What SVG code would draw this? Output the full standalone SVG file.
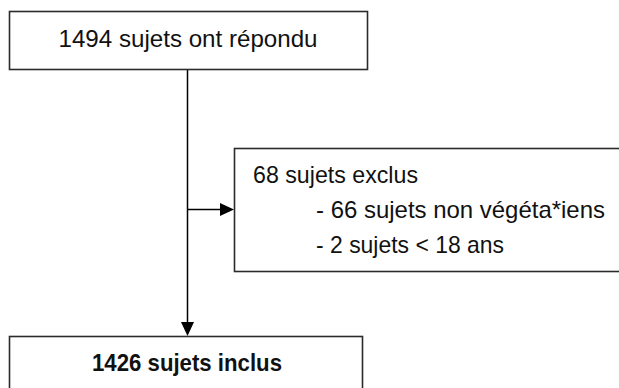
<svg xmlns="http://www.w3.org/2000/svg" width="619" height="388" viewBox="0 0 619 388">
  <defs>
    <style>
      .box { fill: #ffffff; stroke: #2b2b2b; stroke-width: 1.6; }
      .txt { font-family: "Liberation Sans", Arial, sans-serif; font-size: 24px; fill: #111111; }
      .bold { font-weight: bold; }
      .conn { stroke: #000000; stroke-width: 1.5; fill: none; }
    </style>
    <marker id="arrow" markerUnits="userSpaceOnUse" markerWidth="14" markerHeight="13" refX="10" refY="6.5" orient="auto">
      <path d="M0,0 L14,6.5 L0,13 z" fill="#000000"/>
    </marker>
  </defs>
  <rect x="0" y="0" width="619" height="388" fill="#ffffff"/>

  <g id="connectors">
    <line class="conn" x1="187.5" y1="70" x2="187.5" y2="332" marker-end="url(#arrow)"/>
    <line class="conn" x1="187.5" y1="209.5" x2="230" y2="209.5" marker-end="url(#arrow)"/>
  </g>

  <g id="node-repondu">
    <rect class="box" x="9.5" y="11.5" width="358" height="58"/>
    <text class="txt" x="188" y="47" text-anchor="middle" textLength="259" lengthAdjust="spacingAndGlyphs">1494 sujets ont répondu</text>
  </g>

  <g id="node-exclus">
    <rect class="box" x="234.5" y="148.5" width="400" height="123"/>
    <text class="txt" x="253" y="183" textLength="165" lengthAdjust="spacingAndGlyphs">68 sujets exclus</text>
    <text class="txt" x="316" y="218" textLength="289" lengthAdjust="spacingAndGlyphs">- 66 sujets non végéta*iens</text>
    <text class="txt" x="316" y="253" textLength="188" lengthAdjust="spacingAndGlyphs">- 2 sujets &lt; 18 ans</text>
  </g>

  <g id="node-inclus">
    <rect class="box" x="9.5" y="336.5" width="353" height="70"/>
    <text class="txt bold" x="187" y="371" text-anchor="middle" textLength="190" lengthAdjust="spacingAndGlyphs">1426 sujets inclus</text>
  </g>
</svg>
